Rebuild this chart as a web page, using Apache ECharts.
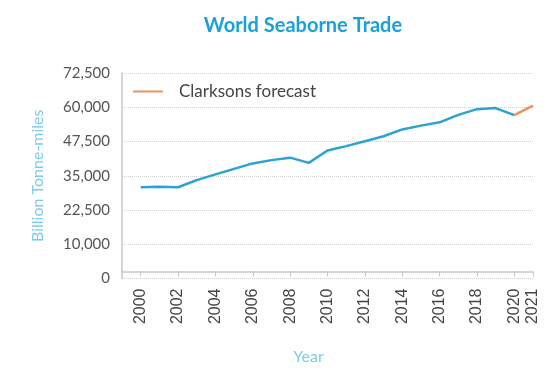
<!DOCTYPE html>
<html>
<head>
<meta charset="utf-8">
<script src="https://cdn.jsdelivr.net/npm/echarts@6/dist/echarts.min.js"></script>
<style>
html,body{margin:0;padding:0;background:#fff;}
#chart{width:556px;height:381px;}
</style>
</head>
<body>
<div id="chart"></div>
<script>
const titleText = 'World Seaborne Trade';
const histYears = [2000,2001,2002,2003,2004,2005,2006,2007,2008,2009,2010,2011,2012,2013,2014,2015,2016,2017,2018,2019,2020];
const histValues = [30800,31000,30800,33400,35500,37500,39500,40700,41600,39700,44200,45800,47600,49400,51900,53300,54500,57200,59300,59700,57100];
const forecastYears = [2020,2021];
const forecastValues = [57100,60600];
const xTickValues = [2000,2002,2004,2006,2008,2010,2012,2014,2016,2018,2020,2021];
const yTickLabels = ['0','10,000','22,500','35,000','47,500','60,000','72,500'];
const legendName = 'Clarksons forecast';

const chart = echarts.init(document.getElementById('chart'));
const font = 'Lato, "Open Sans", sans-serif';
chart.setOption({
  animation: false,
  title: {
    text: titleText, left: 298, top: 11, textAlign: 'center',
    textStyle: {color: '#1ba1d8', fontSize: 20, fontWeight: 'bold', fontFamily: font}
  },
  legend: {
    data: [legendName], left: 128, top: 78, itemWidth: 30, itemHeight: 2, icon: 'rect',
    textStyle: {color: '#444', fontSize: 17, fontFamily: font, padding: [0,0,0,11]}
  },
  grid: {left: 122, right: 23, top: 73, bottom: 102.5, containLabel: false},
  xAxis: {
    type: 'value', min: 1999, max: 2021,
    name: 'Year', nameLocation: 'middle', nameGap: 70,
    nameTextStyle: {color: '#7ccbea', fontSize: 16, fontFamily: font, padding: [0, 38, 0, 0]},
    axisLine: {show: true, lineStyle: {color: '#c8c8c8', width: 1.5}},
    axisTick: {show: true, length: 5, lineStyle: {color: '#c8c8c8'}, customValues: xTickValues},
    splitLine: {show: false},
    axisLabel: {rotate: 90, color: '#444', fontSize: 16, fontFamily: 'Liberation Sans, Arial, sans-serif', margin: 10,
      customValues: xTickValues, formatter: v => String(v)}
  },
  yAxis: {
    type: 'value', min: -2500, max: 72500, interval: 12500,
    name: 'Billion Tonne-miles', nameLocation: 'middle', nameGap: 76, nameRotate: 90,
    nameTextStyle: {color: '#7ccbea', fontSize: 16, fontFamily: font},
    axisLine: {show: true, lineStyle: {color: '#c8c8c8', width: 1.5}},
    axisTick: {show: false},
    splitLine: {show: true, lineStyle: {color: '#d0d0d0', type: 'dotted', width: 1}},
    axisLabel: {color: '#555', fontSize: 15, fontFamily: font, margin: 12,
      formatter: v => yTickLabels[Math.round((v + 2500) / 12500)] || ''}
  },
  series: [
    {name: 'Historical', type: 'line', data: histYears.map((y, i) => [y, histValues[i]]),
      showSymbol: false, lineStyle: {color: '#2aa3d3', width: 2.5}, itemStyle: {color: '#2aa3d3'}},
    {name: legendName, type: 'line', data: forecastYears.map((y, i) => [y, forecastValues[i]]),
      showSymbol: false, lineStyle: {color: '#e8935e', width: 2.5}, itemStyle: {color: '#e8935e'}}
  ]
});
</script>
</body>
</html>
